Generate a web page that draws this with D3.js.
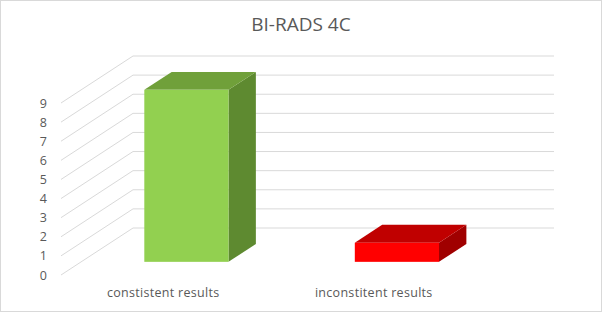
<!DOCTYPE html>
<html>
<head>
<meta charset="utf-8">
<script src="https://cdn.jsdelivr.net/npm/d3@7"></script>
<style>
  body { margin: 0; background: #fff; }
  svg { display: block; font-family: "Open Sans", "Liberation Sans", sans-serif; }
</style>
</head>
<body>
<svg id="chart"></svg>
<script>
    // chart data
    var categories = ['constistent results', 'inconstitent results'];
    var values = [9, 1];
    var yTicks = [0, 1, 2, 3, 4, 5, 6, 7, 8, 9];
    var chartTitle = 'BI-RADS 4C';

    var frontColors = ['#92d050', '#ff0000'];
    var topColors = ['#70a03a', '#c00000'];
    var sideColors = ['#5e8a30', '#a00000'];

    var width = 602, height = 312;

    // front plane of the 3D box, plus the depth vector
    var left = 61, right = 482;
    var depthX = 72, depthY = -47;
    var barFront = 0.28, barBack = 0.66;

    var svg = d3.select('#chart')
        .attr('width', width)
        .attr('height', height);

    svg.append('rect')
        .attr('x', 0.5).attr('y', 0.5)
        .attr('width', width - 1).attr('height', height - 1)
        .attr('fill', '#fff')
        .attr('stroke', '#d9d9d9');

    var scaleX = d3.scaleBand()
        .domain(categories)
        .range([left, right]);

    var scaleY = d3.scaleLinear()
        .domain([0, 9])
        .range([275, 103]);

    function proj(x, v, d) {
        return [x + d * depthX, scaleY(v) + d * depthY];
    }

    // side wall and back wall gridlines
    var grid = svg.append('g').attr('class', 'grid')
        .attr('stroke', '#d9d9d9')
        .attr('stroke-width', 1)
        .attr('fill', 'none');

    yTicks.forEach(function (t) {
        var a = proj(left, t, 0), b = proj(left, t, 1), c = proj(right, t, 1);
        grid.append('path')
            .attr('d', d3.line()([a, b, c]));
    });

    // y axis labels
    svg.append('g')
        .selectAll('text')
        .data(yTicks)
        .join('text')
        .attr('x', 47)
        .attr('y', function (d) { return scaleY(d); })
        .attr('dy', '0.36em')
        .attr('text-anchor', 'end')
        .attr('font-size', 12.5)
        .attr('fill', '#595959')
        .text(function (d) { return d; });

    // bars
    var barWidth = scaleX.bandwidth() * 0.4;
    var bars = svg.append('g').attr('class', 'bars');

    categories.forEach(function (c, i) {
        var x0 = scaleX(c) + (scaleX.bandwidth() - barWidth) / 2;
        var x1 = x0 + barWidth;
        var v = values[i];
        var line = d3.line();
        var g = bars.append('g');

        // right side face
        g.append('path')
            .attr('d', line([proj(x1, 0, barFront), proj(x1, 0, barBack), proj(x1, v, barBack), proj(x1, v, barFront)]) + 'Z')
            .attr('fill', sideColors[i]);

        // top face
        g.append('path')
            .attr('d', line([proj(x0, v, barFront), proj(x1, v, barFront), proj(x1, v, barBack), proj(x0, v, barBack)]) + 'Z')
            .attr('fill', topColors[i]);

        // front face
        var p0 = proj(x0, v, barFront), p1 = proj(x1, 0, barFront);
        g.append('rect')
            .attr('x', p0[0]).attr('y', p0[1])
            .attr('width', p1[0] - p0[0])
            .attr('height', p1[1] - p0[1])
            .attr('fill', frontColors[i]);
    });

    // category labels
    svg.append('g')
        .selectAll('text')
        .data(categories)
        .join('text')
        .attr('x', function (d) { return scaleX(d) + scaleX.bandwidth() / 2 - 3; })
        .attr('y', 297)
        .attr('text-anchor', 'middle')
        .attr('font-size', 12.5)
        .attr('letter-spacing', 0.3)
        .attr('fill', '#595959')
        .text(function (d) { return d; });

    // title
    svg.append('text')
        .attr('x', 301)
        .attr('y', 31)
        .attr('text-anchor', 'middle')
        .attr('font-size', 19)
        .attr('fill', '#595959')
        .text(chartTitle);
</script>
</body>
</html>
